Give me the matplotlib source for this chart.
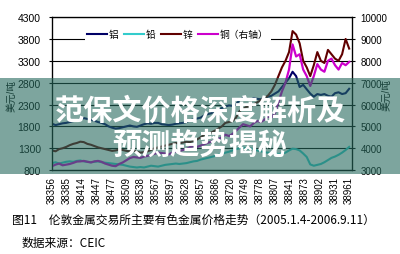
import numpy as np
import matplotlib.pyplot as plt
from matplotlib.patches import Rectangle
from matplotlib.lines import Line2D

plt.rcParams['font.family'] = ['Liberation Sans', 'Noto Sans CJK SC', 'DejaVu Sans']

# --- données (valeurs hebdomadaires) ---
tick_labels = ["38356", "38385", "38414", "38447", "38477", "38509", "38538",
               "38567", "38597", "38628", "38657", "38686", "38720", "38749",
               "38778", "38807", "38841", "38873", "38902", "38931", "38961"]
series_names = ["铝", "铅", "锌", "铜（右轴）"]

aluminium = [1860, 1830, 1850, 1870, 1880, 1900, 1920, 1940,
             1960, 1990, 1970, 1950, 1930, 1900, 1880, 1850,
             1800, 1770, 1750, 1760, 1780, 1800, 1820, 1800,
             1790, 1820, 1850, 1870, 1860, 1880, 1880, 1850,
             1840, 1830, 1840, 1860, 1870, 1880, 1900, 1940,
             1960, 1980, 2000, 2050, 2080, 2100, 2150, 2180,
             2220, 2250, 2280, 2270, 2300, 2400, 2450, 2420,
             2400, 2450, 2430, 2420, 2450, 2480, 2500, 2550,
             2600, 2700, 2800, 2900, 3050, 2950, 2700, 2750,
             2650, 2550, 2480, 2540, 2520, 2540, 2500, 2480,
             2560, 2580, 2540, 2560, 2660]
lead = [960, 980, 950, 970, 990, 1000, 990, 1010,
        1020, 1000, 990, 980, 990, 1000, 980, 970,
        960, 950, 940, 930, 920, 900, 880, 870,
        860, 870, 860, 880, 900, 890, 880, 900,
        920, 930, 940, 950, 940, 950, 960, 980,
        1000, 1010, 1040, 1060, 1080, 1100, 1120, 1150,
        1170, 1200, 1220, 1250, 1280, 1300, 1320, 1290,
        1300, 1280, 1250, 1230, 1210, 1200, 1190, 1180,
        1170, 1180, 1200, 1250, 1290, 1280, 1250, 1180,
        1100, 930, 900, 920, 940, 980, 1030, 1080,
        1110, 1150, 1200, 1260, 1330]
zinc = [1250, 1230, 1280, 1300, 1330, 1370, 1400, 1420,
        1450, 1440, 1400, 1380, 1350, 1320, 1300, 1280,
        1260, 1240, 1250, 1270, 1260, 1240, 1230, 1250,
        1220, 1200, 1210, 1230, 1260, 1300, 1320, 1340,
        1360, 1380, 1400, 1420, 1410, 1430, 1450, 1440,
        1470, 1500, 1550, 1600, 1620, 1660, 1700, 1750,
        1800, 1880, 1900, 1920, 2000, 2150, 2200, 2250,
        2250, 2300, 2350, 2400, 2450, 2500, 2600, 2750,
        2950, 3150, 3300, 3500, 3980, 3900, 3700, 3300,
        3150, 2950, 3200, 3500, 3300, 3250, 3550, 3450,
        3350, 3300, 3450, 3800, 3580]
copper = [3180, 3250, 3300, 3220, 3250, 3280, 3330, 3390,
          3400, 3420, 3380, 3350, 3400, 3420, 3380, 3300,
          3250, 3200, 3180, 3280, 3350, 3450, 3550, 3600,
          3580, 3560, 3620, 3650, 3700, 3750, 3800, 3780,
          3760, 3720, 3800, 3850, 3880, 3920, 3960, 4050,
          4100, 4060, 4120, 4180, 4250, 4300, 4350, 4420,
          4500, 4620, 4560, 4650, 4800, 4950, 5100, 5050,
          5000, 5150, 5250, 5200, 5300, 5450, 5400, 5600,
          6100, 6600, 7000, 7600, 8750, 8200, 8300, 7600,
          7300, 6850, 7300, 7850, 7600, 7500, 8000, 8100,
          7800, 7600, 7900, 7800, 7950]

colors = ["#000066", "#33cccc", "#600000", "#cc00cc"]

fig = plt.figure(figsize=(4, 2.55), dpi=100)
ax = fig.add_axes([0.13, 0.329, 0.75, 0.6])

x = np.arange(len(copper)) * 5  # jours de bourse
ax.plot(x, aluminium, color=colors[0], lw=1.5)
ax.plot(x, lead, color=colors[1], lw=1.5)
ax.plot(x, zinc, color=colors[2], lw=1.5)

ax.set_xlim(0, 424)
ax.set_ylim(800, 4300)
ax.set_yticks(range(800, 4301, 500))
ax.set_xticks(np.arange(len(tick_labels)) * 21)
ax.set_xticklabels(tick_labels, rotation=90, fontsize=7)
ax.tick_params(axis='x', length=0, pad=4)
ax.tick_params(axis='y', length=2, labelsize=7.5, pad=6)
ax.grid(axis='y', color='black', lw=0.8)
for s in ax.spines.values():
    s.set_linewidth(0.9)

ax2 = ax.twinx()
ax2.plot(x, copper, color=colors[3], lw=1.6)
ax2.set_ylim(3000, 10000)
ax2.set_yticks(range(3000, 10001, 1000))
ax2.tick_params(axis='y', length=2, labelsize=7, pad=4)
ax2.set_xlim(0, 424)

handles = [Line2D([], [], color=c, lw=1.5) for c in colors]
ax2.legend(handles, series_names, ncol=4, loc='center',
           bbox_to_anchor=(178 / 400, 1 - 35 / 255), bbox_transform=fig.transFigure,
           frameon=True, facecolor='white', edgecolor='none', fancybox=False,
           framealpha=1, fontsize=7, handlelength=2.0, handletextpad=0.2,
           columnspacing=0.6, borderpad=0.25)

fig.text(11 / 400, 1 - 96 / 255, "美元/吨", rotation=90, ha='center', va='center', fontsize=7)
fig.text(386 / 400, 1 - 95 / 255, "美元/吨", rotation=90, ha='center', va='center', fontsize=7)

fig.text(12 / 400, 1 - 220 / 255,
         "图11　伦敦金属交易所主要有色金属价格走势（2005.1.4-2006.9.11）",
         ha='left', va='center', fontsize=8.5,
         family=['Noto Sans CJK SC', 'DejaVu Sans'])
fig.text(22 / 400, 1 - 243 / 255, "数据来源：CEIC", ha='left', va='center',
         fontsize=8.5, family=['Noto Sans CJK SC', 'DejaVu Sans'])

# bandeau semi-transparent + titre
fig.add_artist(Rectangle((0, 1 - 175 / 255), 1, 96 / 255, transform=fig.transFigure,
                         facecolor='#26695d', alpha=0.6, edgecolor='none', zorder=5))
fig.text(0.5, 1 - 111 / 255, "范保文价格深度解析及", ha='center', va='center',
         fontsize=21, fontweight='bold', color='white', zorder=6,
         family=['Noto Sans CJK SC'])
fig.text(0.5, 1 - 145 / 255, "预测趋势揭秘", ha='center', va='center',
         fontsize=21, fontweight='bold', color='white', zorder=6,
         family=['Noto Sans CJK SC'])

fig.savefig("out.png", dpi=100)
